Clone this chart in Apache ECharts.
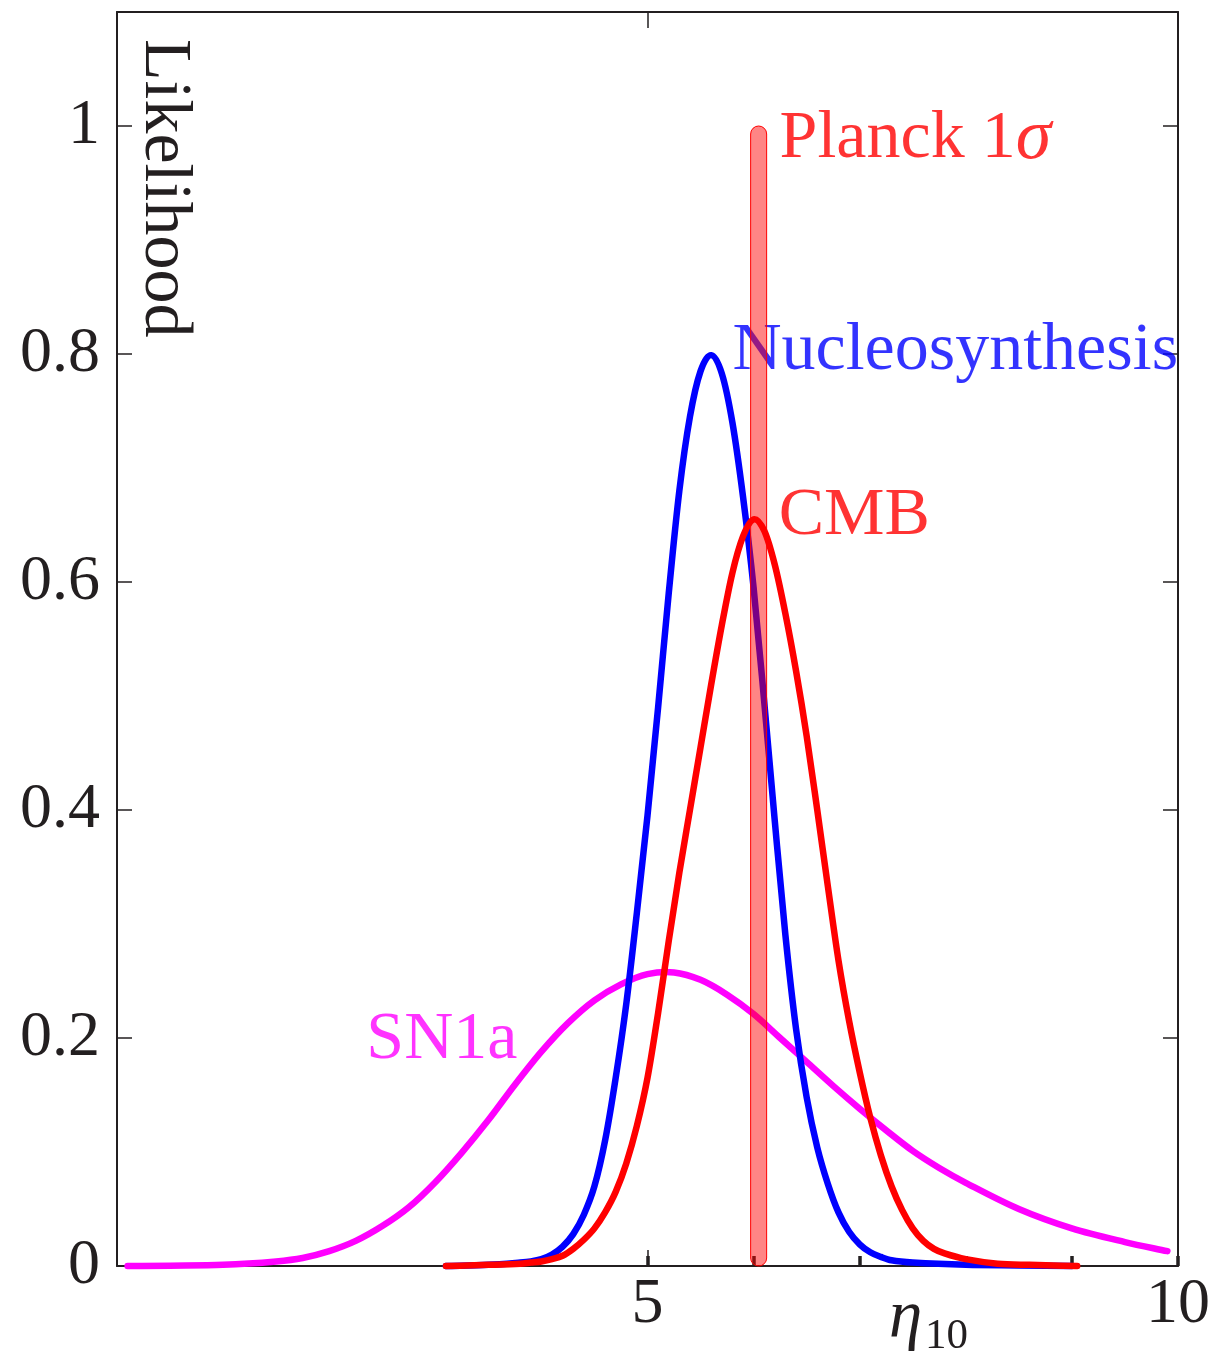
<!DOCTYPE html>
<html>
<head>
<meta charset="utf-8">
<title>Likelihood of the baryon-to-photon ratio</title>
<script src="https://cdn.jsdelivr.net/npm/echarts@6/dist/echarts.min.js"></script>
<style>
  html, body { margin: 0; padding: 0; background: #ffffff; }
  #chart { width: 1217px; height: 1355px; }
</style>
</head>
<body>
<div id="chart"></div>
<script>
// Likelihood curves for eta_10 (baryon-to-photon ratio x 1e10)
const sn1aX = [0.1, 0.5, 1.0, 1.5, 1.75, 2.0, 2.25, 2.5, 2.75, 3.0, 3.25, 3.5, 3.75, 4.0, 4.25, 4.5, 4.75, 5.0, 5.25, 5.5, 5.75, 6.0, 6.25, 6.5, 6.75, 7.0, 7.25, 7.5, 7.75, 8.0, 8.5, 9.0, 9.5, 9.9];
const sn1aY = [0, 0.0003, 0.001, 0.004, 0.007, 0.013, 0.022, 0.035, 0.0515, 0.0735, 0.0995, 0.128, 0.159, 0.188, 0.213, 0.233, 0.247, 0.256, 0.2575, 0.251, 0.238, 0.221, 0.2, 0.179, 0.158, 0.138, 0.119, 0.101, 0.086, 0.073, 0.050, 0.033, 0.021, 0.013];

const bbnX = [3.1, 3.5, 3.8, 3.9, 4.0, 4.1, 4.2, 4.3, 4.4, 4.5, 4.6, 4.7, 4.8, 4.9, 5.0, 5.1, 5.2, 5.3, 5.4, 5.5, 5.6, 5.7, 5.8, 5.9, 6.0, 6.1, 6.2, 6.3, 6.4, 6.5, 6.6, 6.7, 6.8, 6.9, 7.0, 7.1, 7.2, 7.3, 7.5, 8.0, 8.5, 9.0];
const bbnY = [0, 0.001, 0.003, 0.004, 0.006, 0.01, 0.017, 0.028, 0.045, 0.07, 0.11, 0.165, 0.23, 0.31, 0.395, 0.49, 0.59, 0.68, 0.745, 0.785, 0.799, 0.783, 0.74, 0.675, 0.595, 0.495, 0.39, 0.29, 0.208, 0.148, 0.104, 0.072, 0.047, 0.03, 0.019, 0.012, 0.008, 0.005, 0.003, 0.001, 0.0005, 0];

const cmbX = [3.1, 3.5, 3.8, 3.9, 4.0, 4.1, 4.2, 4.3, 4.4, 4.5, 4.6, 4.7, 4.8, 4.9, 5.0, 5.1, 5.2, 5.3, 5.4, 5.5, 5.6, 5.7, 5.8, 5.9, 6.0, 6.1, 6.2, 6.3, 6.4, 6.5, 6.6, 6.7, 6.8, 6.9, 7.0, 7.1, 7.2, 7.3, 7.4, 7.5, 7.6, 7.7, 7.8, 8.0, 8.3, 8.6, 9.05];
const cmbY = [0, 0.001, 0.002, 0.003, 0.004, 0.006, 0.009, 0.015, 0.023, 0.033, 0.047, 0.065, 0.09, 0.123, 0.165, 0.222, 0.285, 0.345, 0.40, 0.455, 0.51, 0.562, 0.608, 0.64, 0.655, 0.645, 0.615, 0.572, 0.522, 0.465, 0.40, 0.333, 0.268, 0.215, 0.17, 0.13, 0.097, 0.07, 0.049, 0.033, 0.022, 0.015, 0.011, 0.006, 0.002, 0.001, 0];

// Planck 1-sigma interval: [eta low, eta high, likelihood low, likelihood high]
const planckBand = [5.972, 6.123, 0, 1];

// Axis ticks and labels
const xTickLabels = [5, 10];
const xMinorTicks = [5, 6, 7, 8, 9, 10];
const xTopTicks = [5, 10];
const yTicks = [0, 0.2, 0.4, 0.6, 0.8, 1];

// Curve names and where their labels sit (data coordinates, lower-left of text)
const curveNames = ['Planck 1σ', 'Nucleosynthesis', 'CMB', 'SN1a'];
const labelAnchors = [[6.245, 0.957], [5.80, 0.773], [6.236, 0.628], [2.35, 0.168]];
const labelColors = ['#ff0000', '#0000ff', '#ff0000', '#ff00ff'];

const FONT = '"Liberation Serif", "Times New Roman", serif';
const INK = '#231f20';
const CURVE_WIDTH = 6.5;

const pairs = (xs, ys) => xs.map((x, i) => [x, ys[i]]);

const chart = echarts.init(document.getElementById('chart'), null, { renderer: 'canvas' });

const labelData = curveNames.map((name, i) => {
  const isPlanck = name.indexOf('σ') >= 0;
  return {
    name: name,
    value: labelAnchors[i],
    label: {
      show: true,
      position: [0, 0],
      align: 'left',
      verticalAlign: 'bottom',
      color: labelColors[i],
      fontFamily: FONT,
      fontSize: 68,
      formatter: isPlanck ? '{n|Planck 1}{s|σ}' : name,
      rich: isPlanck ? {
        n: { fontFamily: FONT, fontSize: 68, color: labelColors[i] },
        s: { fontFamily: FONT, fontSize: 72, fontStyle: 'italic', color: labelColors[i] }
      } : undefined
    }
  };
});

// Smooth curve through the samples: cubic Hermite segments in screen space,
// tangents from neighbouring samples, positioned by the chart's own axes.
function smoothCurveItem(color) {
  return function (params, api) {
    if (params.dataIndexInside !== 0) return null;
    const n = params.dataInsideLength;
    const P = [];
    for (let i = 0; i < n; i++) {
      P.push(api.coord([api.value(0, i), api.value(1, i)]));
    }
    const slope = P.map((p, i) => {
      const a = P[Math.max(i - 1, 0)];
      const b = P[Math.min(i + 1, n - 1)];
      return (b[1] - a[1]) / (b[0] - a[0]);
    });
    let d = 'M' + P[0][0] + ' ' + P[0][1];
    for (let i = 0; i < n - 1; i++) {
      const h = P[i + 1][0] - P[i][0];
      d += ' C' + (P[i][0] + h / 3) + ' ' + (P[i][1] + slope[i] * h / 3) +
           ' ' + (P[i + 1][0] - h / 3) + ' ' + (P[i + 1][1] - slope[i + 1] * h / 3) +
           ' ' + P[i + 1][0] + ' ' + P[i + 1][1];
    }
    return {
      type: 'path',
      shape: { pathData: d },
      style: { fill: 'none', stroke: color, lineWidth: CURVE_WIDTH, lineJoin: 'round', lineCap: 'round' }
    };
  };
}

const curveSeries = (name, xs, ys, color, z) => ({
  name: name, type: 'custom', xAxisIndex: 0, yAxisIndex: 0,
  encode: { x: 0, y: 1 }, data: pairs(xs, ys), z: z, silent: true,
  renderItem: smoothCurveItem(color)
});

const option = {
  animation: false,
  backgroundColor: '#ffffff',
  grid: {
    left: 117, top: 12, width: 1061, height: 1254,
    containLabel: false, outerBoundsMode: 'none'
  },
  xAxis: [
    {
      type: 'value', position: 'bottom', min: 0, max: 10, interval: 5,
      axisLine: { show: true, onZero: false, lineStyle: { color: INK, width: 2 } },
      axisTick: { show: true, inside: true, length: 16, customValues: xTickLabels, lineStyle: { color: INK, width: 1.5 } },
      axisLabel: { show: true, customValues: xTickLabels, fontFamily: FONT, fontSize: 64, color: INK, margin: 7 },
      splitLine: { show: false }
    },
    {
      type: 'value', position: 'bottom', min: 0, max: 10, interval: 1,
      axisLine: { show: false, onZero: false },
      axisTick: { show: true, inside: true, length: 10, customValues: xMinorTicks, lineStyle: { color: INK, width: 3.5 } },
      axisLabel: { show: false },
      splitLine: { show: false }
    },
    {
      type: 'value', position: 'top', min: 0, max: 10, interval: 5,
      axisLine: { show: true, onZero: false, lineStyle: { color: INK, width: 2 } },
      axisTick: { show: true, inside: true, length: 16, customValues: xTopTicks, lineStyle: { color: INK, width: 1.5 } },
      axisLabel: { show: false },
      splitLine: { show: false }
    }
  ],
  yAxis: [
    {
      type: 'value', position: 'left', min: 0, max: 1.1,
      axisLine: { show: true, onZero: false, lineStyle: { color: INK, width: 2 } },
      axisTick: { show: true, inside: true, length: 15, customValues: yTicks, lineStyle: { color: INK, width: 1.5 } },
      axisLabel: { show: true, customValues: yTicks, fontFamily: FONT, fontSize: 64, color: INK, margin: 17 },
      splitLine: { show: false }
    },
    {
      type: 'value', position: 'right', min: 0, max: 1.1,
      axisLine: { show: true, onZero: false, lineStyle: { color: INK, width: 2 } },
      axisTick: { show: true, inside: true, length: 15, customValues: yTicks, lineStyle: { color: INK, width: 1.5 } },
      axisLabel: { show: false },
      splitLine: { show: false }
    }
  ],
  series: [
    curveSeries('SN1a', sn1aX, sn1aY, '#ff00ff', 2),
    curveSeries('Nucleosynthesis', bbnX, bbnY, '#0000ff', 3),
    curveSeries('CMB', cmbX, cmbY, '#ff0000', 4),
    {
      name: 'labels', type: 'scatter', xAxisIndex: 0, yAxisIndex: 0,
      symbolSize: 0, data: labelData, z: 5, silent: true
    },
    {
      name: 'Planck 1σ', type: 'custom', xAxisIndex: 0, yAxisIndex: 0, z: 6,
      encode: { x: [0, 1], y: [2, 3] },
      data: [planckBand], silent: true,
      renderItem: function (params, api) {
        const topLeft = api.coord([api.value(0), api.value(3)]);
        const bottomRight = api.coord([api.value(1), api.value(2)]);
        const w = bottomRight[0] - topLeft[0];
        return {
          type: 'rect',
          shape: { x: topLeft[0], y: topLeft[1], width: w, height: bottomRight[1] - topLeft[1], r: w / 2 },
          style: { fill: 'rgba(255, 0, 0, 0.48)', stroke: '#ff0000', lineWidth: 1 }
        };
      }
    }
  ],
  graphic: [
    {
      type: 'text', x: 130, y: 39, rotation: -Math.PI / 2, silent: true,
      style: { text: 'Likelihood', fontFamily: FONT, fontSize: 68, fill: INK, align: 'left', verticalAlign: 'bottom' }
    },
    {
      type: 'text', x: 889, y: 1319, silent: true,
      style: { text: 'η', fontFamily: FONT, fontStyle: 'italic', fontSize: 67, fill: INK, align: 'left', verticalAlign: 'middle' }
    },
    {
      type: 'text', x: 925, y: 1337, silent: true,
      style: { text: '10', fontFamily: FONT, fontSize: 43, fill: INK, align: 'left', verticalAlign: 'middle' }
    }
  ]
};

chart.setOption(option);
</script>
</body>
</html>
